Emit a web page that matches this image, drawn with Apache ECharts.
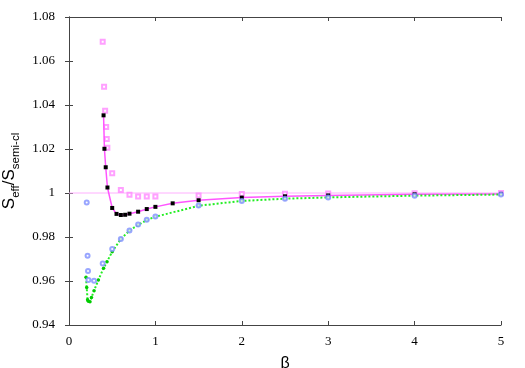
<!DOCTYPE html>
<html><head><meta charset="utf-8">
<script src="https://cdn.jsdelivr.net/npm/echarts@6/dist/echarts.min.js"></script>
<style>html,body{margin:0;padding:0;background:#fff}#c{width:525px;height:368px}</style>
</head><body><div id="c"></div>
<script>
const xTicks = [0, 1, 2, 3, 4, 5];
const yTicks = [0.94, 0.96, 0.98, 1, 1.02, 1.04, 1.06, 1.08];
const refLine = [[0, 1], [5, 1]];
const effLine = [[0.40,1.0353],[0.41,1.0201],[0.425,1.0117],[0.445,1.0025],[0.50,0.9932],[0.55,0.9905],[0.60,0.9900],[0.65,0.9901],[0.70,0.9906],[0.80,0.9915],[0.90,0.9927],[1.00,0.9937],[1.20,0.9953],[1.50,0.9967],[2.0,0.9979],[2.5,0.9985],[3.0,0.9989],[4.0,0.9994],[5.0,0.9996]];
const effOpen = [[0.39,1.0688],[0.406,1.0483],[0.418,1.0374],[0.43,1.0300],[0.437,1.0245],[0.444,1.0206],[0.50,1.009],[0.60,1.0014],[0.70,0.9992],[0.80,0.9984],[0.90,0.9984],[1.00,0.9984],[1.50,0.9989],[2.0,0.9995],[2.5,0.9997],[3.0,0.9998],[4.0,0.9999],[5.0,1.0]];
const semiLine = [[0.197,0.9617],[0.205,0.957],[0.215,0.9515],[0.224,0.9508],[0.243,0.9506],[0.26,0.9525],[0.29,0.9556],[0.34,0.9605],[0.40,0.9658],[0.44,0.9688],[0.50,0.9733],[0.60,0.9791],[0.70,0.9829],[0.80,0.9855],[0.90,0.9877],[1.00,0.9892],[1.50,0.9942],[2.0,0.9964],[2.5,0.9974],[3.0,0.9980],[4.0,0.9988],[5.0,0.9993]];
const semiOpen = [[0.205,0.9957],[0.215,0.9715],[0.22,0.9645],[0.225,0.9605],[0.29,0.9601],[0.39,0.9679],[0.50,0.9745],[0.60,0.9791],[0.70,0.9830],[0.80,0.9857],[0.90,0.9878],[1.00,0.9893],[1.50,0.9943],[2.0,0.9964],[2.5,0.9974],[3.0,0.9980],[4.0,0.9988],[5.0,0.9993]];

const chart = echarts.init(document.getElementById('c'));
const serif = 'Liberation Serif';
const sans = 'Liberation Sans';
const axisLine = {show: true, lineStyle: {color: '#444', width: 1}};
chart.setOption({
  animation: false,
  grid: {left: 69, right: 24, top: 17, bottom: 43, containLabel: false, outerBoundsMode: 'none'},
  xAxis: [{
    type: 'value', min: xTicks[0], max: xTicks[xTicks.length-1], interval: 1,
    axisLine: axisLine, axisTick: {inside: true, length: 4, lineStyle: {color: '#444'}},
    splitLine: {show: false},
    axisLabel: {fontFamily: serif, fontSize: 13, color: '#000', margin: 10},
    name: 'β', nameLocation: 'middle', nameGap: 31,
    nameTextStyle: {fontFamily: sans, fontSize: 16, color: '#000'}
  }, {
    type: 'value', position: 'top', min: 0, max: 5, interval: 1,
    axisLine: axisLine, axisTick: {inside: true, length: 4, lineStyle: {color: '#444'}},
    axisLabel: {show: false}, splitLine: {show: false}
  }],
  yAxis: [{
    type: 'value', min: yTicks[0], max: yTicks[yTicks.length-1], interval: 0.02,
    axisLine: axisLine, axisTick: {inside: true, length: 4, lineStyle: {color: '#444'}},
    splitLine: {show: false},
    axisLabel: {fontFamily: serif, fontSize: 13, color: '#000', margin: 14,
      formatter: v => String(+v.toFixed(2))},
    name: '{a|S}{b|eff}{a|/S}{b|semi-cl}', nameLocation: 'middle', nameGap: 34, nameRotate: 90,
    nameTextStyle: {
      color: '#000',
      rich: {
        a: {fontFamily: sans, fontSize: 17, color: '#000', verticalAlign: 'bottom', lineHeight: 20},
        b: {fontFamily: sans, fontSize: 11.5, color: '#000', verticalAlign: 'bottom', lineHeight: 14, padding: [0,0,-4,0]}
      }
    }
  }, {
    type: 'value', position: 'right', min: 0.94, max: 1.08, interval: 0.02,
    axisLine: axisLine, axisTick: {inside: true, length: 4, lineStyle: {color: '#444'}},
    axisLabel: {show: false}, splitLine: {show: false}
  }],
  series: [
    {type: 'line', data: refLine, symbol: 'none', lineStyle: {color: '#ffb0ff', width: 1}, z: 1},
    {type: 'line', data: effLine, symbol: 'rect', symbolSize: 4, showAllSymbol: true,
     itemStyle: {color: '#000'}, lineStyle: {color: '#ff55ff', width: 1.5}, z: 3},
    {type: 'scatter', data: effOpen, symbol: 'emptyRect', symbolSize: 4,
     itemStyle: {color: '#ff88ff', borderWidth: 0.8}, z: 2},
    {type: 'line', data: semiLine, symbol: 'circle', symbolSize: 3.5, showAllSymbol: true,
     itemStyle: {color: '#00cc00'}, lineStyle: {color: '#22ee22', width: 2, type: [2, 2]}, z: 3},
    {type: 'scatter', data: semiOpen, symbol: 'emptyCircle', symbolSize: 4,
     itemStyle: {color: '#8090ff', borderWidth: 0.8}, z: 4}
  ]
});
</script></body></html>
